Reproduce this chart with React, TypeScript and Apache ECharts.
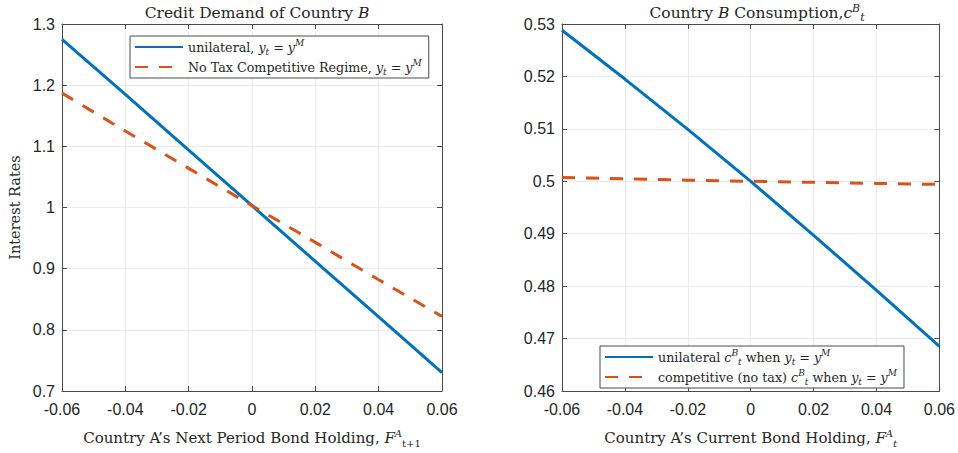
import React, { useEffect, useRef } from "react";
import * as echarts from "echarts";

const xLeft = [-0.06, -0.04, -0.02, 0, 0.02, 0.04, 0.06];
const leftUnilateral = [1.275, 1.185, 1.094, 1.003, 0.912, 0.821, 0.73];
const leftCompetitive = [1.187, 1.125, 1.064, 1.003, 0.943, 0.882, 0.822];

const xRight = [-0.06, -0.04, -0.02, 0, 0.02, 0.04, 0.06];
const rightUnilateral = [0.5288, 0.5195, 0.5099, 0.5, 0.4897, 0.4792, 0.4685];
const rightCompetitive = [0.5007, 0.5005, 0.5002, 0.5, 0.4998, 0.4996, 0.4994];

const BLUE = "#0072BD";
const ORANGE = "#D95319";
const TXT = "#262626";
const FRAME = "#4a4a4a";
const GRIDC = "#ebebeb";
const SERIF = "'DejaVu Serif', 'Liberation Serif', serif";
const SANS = "'Liberation Sans', Arial, sans-serif";

function makeRich(size: number, lh: number) {
  const s = Math.round(size * 0.68);
  return {
    n: { fontFamily: SERIF, fontSize: size, color: TXT, lineHeight: lh, fontWeight: "normal" },
    i: { fontFamily: SERIF, fontSize: size, color: TXT, fontStyle: "italic", lineHeight: lh, fontWeight: "normal" },
    sub: { fontFamily: SERIF, fontSize: s, color: TXT, fontStyle: "italic", verticalAlign: "bottom", lineHeight: s + 1, fontWeight: "normal" },
    sup: { fontFamily: SERIF, fontSize: s, color: TXT, fontStyle: "italic", verticalAlign: "top", lineHeight: s + 1, fontWeight: "normal" },
    subn: { fontFamily: SERIF, fontSize: s, color: TXT, verticalAlign: "bottom", lineHeight: s + 1, fontWeight: "normal" },
  };
}

const titleRich = makeRich(15.5, 20);
const axisRich = makeRich(15, 20);
const legendRich = makeRich(12.7, 18);

const pair = (xs: number[], ys: number[]) => xs.map((x, k) => [x, ys[k]]);
const fmt = (v: number) => String(Math.round(v * 100) / 100);

const names = {
  lu: "unilateral, yt = yM",
  lc: "No Tax Competitive Regime, yt = yM",
  ru: "unilateral cB when yt = yM",
  rc: "competitive (no tax) cB when yt = yM",
};

const legendFmt = (name: string) => {
  const yeq = "{i|y}{sub|t}{n| = }{i|y}{sup|M}";
  if (name === names.lu) return "{n|unilateral, }" + yeq;
  if (name === names.lc) return "{n|No Tax Competitive Regime, }" + yeq;
  if (name === names.ru) return "{n|unilateral }{i|c}{sup|B}{sub|t}{n| when }" + yeq;
  if (name === names.rc) return "{n|competitive (no tax) }{i|c}{sup|B}{sub|t}{n| when }" + yeq;
  return name;
};

function xAxisCfg(gridIndex: number, name: string) {
  return {
    type: "value",
    gridIndex,
    min: -0.06,
    max: 0.06,
    interval: 0.02,
    name,
    nameLocation: "middle",
    nameGap: 37,
    nameTextStyle: { rich: axisRich },
    axisLine: { show: true, onZero: false, lineStyle: { color: FRAME, width: 1 } },
    axisTick: { show: true, inside: true, length: 5, lineStyle: { color: FRAME } },
    axisLabel: { color: TXT, fontFamily: SANS, fontSize: 16, margin: 10, formatter: fmt, showMinLabel: true, showMaxLabel: true },
    splitLine: { show: true, lineStyle: { color: GRIDC, width: 1 } },
  };
}

function xTopCfg(gridIndex: number) {
  return {
    type: "value",
    gridIndex,
    position: "top",
    min: -0.06,
    max: 0.06,
    interval: 0.02,
    axisLine: { show: true, onZero: false, lineStyle: { color: FRAME, width: 1 } },
    axisTick: { show: true, inside: true, length: 5, lineStyle: { color: FRAME } },
    axisLabel: { show: false },
    splitLine: { show: false },
  };
}

function yAxisCfg(gridIndex: number, min: number, max: number, interval: number, name?: string) {
  return {
    type: "value",
    gridIndex,
    min,
    max,
    interval,
    name: name || "",
    nameLocation: "middle",
    nameGap: 40,
    nameTextStyle: { fontFamily: SERIF, fontSize: 14.5, color: TXT },
    axisLine: { show: true, onZero: false, lineStyle: { color: FRAME, width: 1 } },
    axisTick: { show: true, inside: true, length: 5, lineStyle: { color: FRAME } },
    axisLabel: { color: TXT, fontFamily: SANS, fontSize: 16, margin: 7, formatter: fmt, showMinLabel: true, showMaxLabel: true },
    splitLine: { show: true, lineStyle: { color: GRIDC, width: 1 } },
  };
}

function yRightCfg(gridIndex: number, min: number, max: number, interval: number) {
  return {
    type: "value",
    gridIndex,
    position: "right",
    min,
    max,
    interval,
    axisLine: { show: true, onZero: false, lineStyle: { color: FRAME, width: 1 } },
    axisTick: { show: true, inside: true, length: 5, lineStyle: { color: FRAME } },
    axisLabel: { show: false },
    splitLine: { show: false },
  };
}

function legendCfg(data: string[], left: number, top: number) {
  return {
    data,
    left,
    top,
    orient: "vertical",
    itemWidth: 48,
    itemHeight: 12,
    itemGap: 2,
    padding: [2, 7, 2, 4],
    backgroundColor: "#fff",
    borderColor: FRAME,
    borderWidth: 1,
    formatter: legendFmt,
    itemStyle: { opacity: 0 },
    textStyle: { rich: legendRich },
  };
}

export default function App() {
  const ref = useRef<HTMLDivElement>(null);
  useEffect(() => {
    if (!ref.current) return;
    const chart = echarts.init(ref.current, undefined, { renderer: "svg" });
    const option: any = {
      animation: false,
      backgroundColor: "#ffffff",
      title: [
        {
          text: "{n|Credit Demand of Country }{i|B}",
          left: 252,
          top: -2,
          textAlign: "center",
          textStyle: { rich: titleRich },
        },
        {
          text: "{n|Country }{i|B}{n| Consumption,}{i|c}{sup|B}{sub|t}",
          left: 752,
          top: -2,
          textAlign: "center",
          textStyle: { rich: titleRich },
        },
      ],
      grid: [
        { left: 62, right: 516, top: 24, bottom: 60, show: true, borderWidth: 0, backgroundColor: "#fff" },
        { left: 562, right: 17, top: 24, bottom: 61, show: true, borderWidth: 0, backgroundColor: "#fff" },
      ],
      legend: [
        legendCfg([names.lu, names.lc], 130, 36),
        legendCfg([names.ru, names.rc], 600, 346),
      ],
      xAxis: [
        xAxisCfg(0, "{n|Country A’s Next Period Bond Holding, }{i|F}{sup|A}{subn|t+1}"),
        xAxisCfg(1, "{n|Country A’s Current Bond Holding, }{i|F}{sup|A}{sub|t}"),
        xTopCfg(0),
        xTopCfg(1),
      ],
      yAxis: [
        yAxisCfg(0, 0.7, 1.3, 0.1, "Interest Rates"),
        yAxisCfg(1, 0.46, 0.53, 0.01),
        yRightCfg(0, 0.7, 1.3, 0.1),
        yRightCfg(1, 0.46, 0.53, 0.01),
      ],
      series: [
        {
          name: names.lu, type: "line", xAxisIndex: 0, yAxisIndex: 0, data: pair(xLeft, leftUnilateral),
          showSymbol: false, symbol: "none", lineStyle: { color: BLUE, width: 3 }, itemStyle: { color: BLUE },
        },
        {
          name: names.lc, type: "line", xAxisIndex: 0, yAxisIndex: 0, data: pair(xLeft, leftCompetitive),
          showSymbol: false, symbol: "none", lineStyle: { color: ORANGE, width: 3, type: [13, 11] }, itemStyle: { color: ORANGE },
        },
        {
          name: names.ru, type: "line", xAxisIndex: 1, yAxisIndex: 1, data: pair(xRight, rightUnilateral),
          showSymbol: false, symbol: "none", lineStyle: { color: BLUE, width: 3 }, itemStyle: { color: BLUE },
        },
        {
          name: names.rc, type: "line", xAxisIndex: 1, yAxisIndex: 1, data: pair(xRight, rightCompetitive),
          showSymbol: false, symbol: "none", lineStyle: { color: ORANGE, width: 3, type: [13, 11] }, itemStyle: { color: ORANGE },
        },
      ],
    };
    chart.setOption(option);
    return () => chart.dispose();
  }, []);
  return <div ref={ref} style={{ position: "fixed", left: 0, top: 0, width: 958, height: 453 }} />;
}
